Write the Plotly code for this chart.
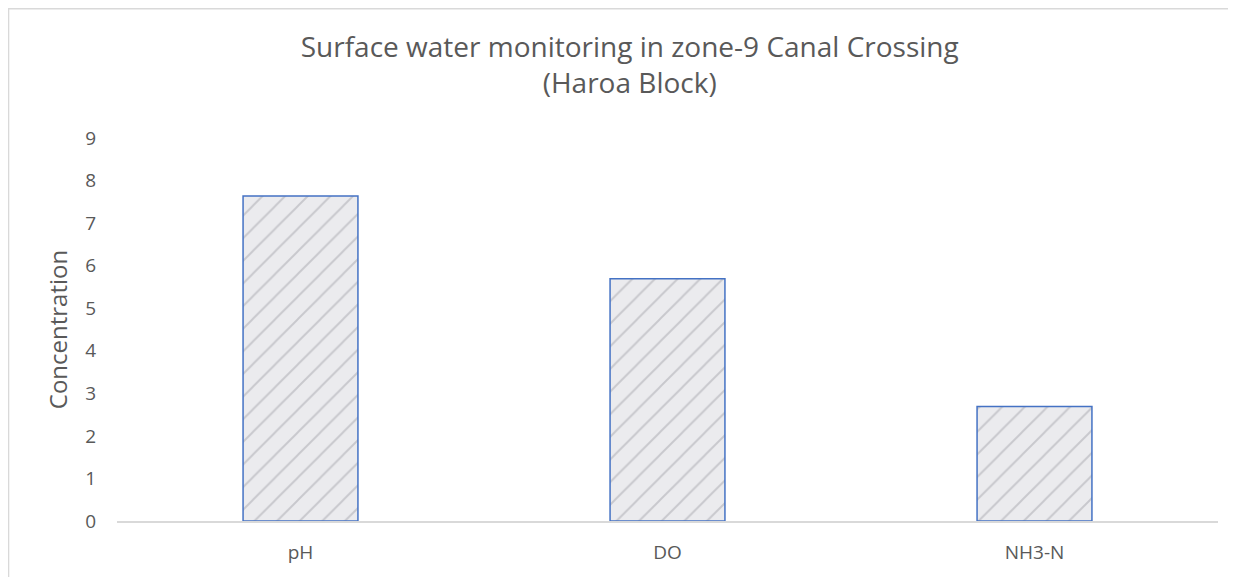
import plotly.graph_objects as go

parameters = ["pH", "DO", "NH3-N"]
concentration = [7.64, 5.69, 2.69]
y_ticks = list(range(0, 10))

fig = go.Figure()

fig.add_trace(
    go.Bar(
        x=parameters,
        y=concentration,
        marker=dict(
            color="#e9e9ec",
            line=dict(color="#4472C4", width=1.5),
            pattern=dict(shape="/", fgcolor="#9d9da4", bgcolor="#ebebee",
                         size=16, solidity=0.12, fgopacity=0.45),
        ),
        hoverinfo="x+y",
    )
)

# page body adds ~8px offset, margins compensate for it
fig.update_layout(
    width=1236,
    height=577,
    paper_bgcolor="white",
    plot_bgcolor="white",
    showlegend=False,
    bargap=0.687,
    margin=dict(l=109, r=26, t=130, b=64, autoexpand=False),
    font=dict(family="Open Sans", color="#595959"),
    title=dict(
        text="Surface water monitoring in zone-9 Canal Crossing<br>(Haroa Block)",
        x=0.503,
        xanchor="center",
        y=0.915,
        yanchor="top",
        font=dict(family="Open Sans", size=28, color="#595959"),
    ),
    xaxis=dict(
        showline=True,
        linecolor="#d9d9d9",
        linewidth=1.5,
        ticks="",
        showgrid=False,
        tickfont=dict(size=19, color="#595959"),
        ticklabelstandoff=13,
    ),
    yaxis=dict(
        range=[0, 9],
        tickvals=y_ticks,
        showgrid=False,
        zeroline=False,
        showline=False,
        automargin=False,
        tickfont=dict(size=19, color="#595959"),
        ticklabelstandoff=20,
        title=dict(text="Concentration", font=dict(size=24, color="#595959"), standoff=10),
    ),
    shapes=[
        dict(type="rect", xref="paper", yref="paper",
             x0=-0.0985, x1=1.05, y0=-0.3, y1=1.3375,
             line=dict(color="#d9d9d9", width=1.5), fillcolor="rgba(0,0,0,0)", layer="below")
    ],
)

fig.write_html("out.html")
